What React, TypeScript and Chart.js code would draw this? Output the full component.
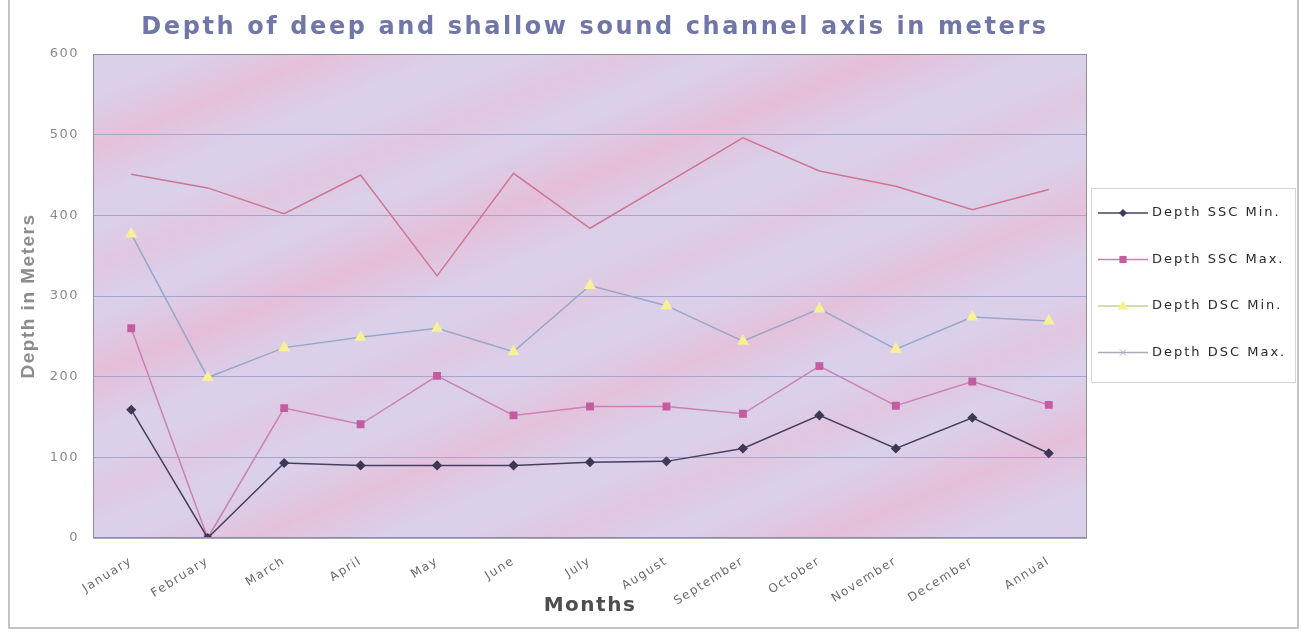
import React, { useEffect, useRef } from "react";
import { Chart, registerables } from "chart.js";

Chart.register(...registerables);

const months = [
  "January", "February", "March", "April", "May", "June", "July",
  "August", "September", "October", "November", "December", "Annual",
];
const sscMin = [159, 0, 93, 90, 90, 90, 94, 95, 111, 152, 111, 149, 105];
const sscMax = [260, 0, 161, 141, 201, 152, 163, 163, 154, 213, 164, 194, 165];
const dscMin = [377, 199, 236, 249, 260, 231, 313, 288, 244, 284, 234, 274, 269];
const dscMax = [451, 434, 402, 450, 325, 452, 384, 440, 496, 455, 436, 407, 432];
const seriesNames = ["Depth SSC Min.", "Depth SSC Max.", "Depth DSC Min.", "Depth DSC Max."];
const yMin = 0;
const yMax = 600;
const yStep = 100;

const TITLE = "Depth of deep and shallow sound channel axis in meters";

const backgroundPlugin = {
  id: "bgPlugin",
  beforeDraw(chart: any) {
    const { ctx, chartArea, width, height } = chart;
    ctx.save();
    ctx.fillStyle = "#ffffff";
    ctx.fillRect(0, 0, width, height);
    // frame
    ctx.strokeStyle = "#c4c4c4";
    ctx.lineWidth = 2;
    ctx.strokeRect(9, -2, width - 13, height - 10);
    // plot background with soft diagonal streaks
    const { left, top, right, bottom } = chartArea;
    const w = right - left;
    const h = bottom - top;
    ctx.beginPath();
    ctx.rect(left, top, w, h);
    ctx.clip();
    ctx.fillStyle = "#dad0ea";
    ctx.fillRect(left, top, w, h);
    const a = -0.38;
    const nx = -Math.sin(a);
    const ny = Math.cos(a);
    const cx = left + w / 2;
    const cy = top + h / 2;
    const L = 620;
    const g = ctx.createLinearGradient(cx - L * nx, cy - L * ny, cx + L * nx, cy + L * ny);
    const lav = "rgba(218,208,234,1)";
    const bands: [number, number, string][] = [
      [0.06, 0.035, "rgba(228,194,220,1)"],
      [0.15, 0.025, "rgba(224,200,226,1)"],
      [0.24, 0.04, "rgba(229,192,218,1)"],
      [0.33, 0.03, "rgba(225,198,224,1)"],
      [0.41, 0.045, "rgba(229,190,217,1)"],
      [0.5, 0.025, "rgba(224,200,226,1)"],
      [0.58, 0.04, "rgba(228,193,219,1)"],
      [0.67, 0.03, "rgba(225,198,224,1)"],
      [0.75, 0.045, "rgba(229,191,218,1)"],
      [0.85, 0.03, "rgba(226,197,223,1)"],
      [0.93, 0.035, "rgba(228,194,220,1)"],
    ];
    g.addColorStop(0, lav);
    bands.forEach(([p, bw, col]) => {
      g.addColorStop(Math.max(0, p - bw), lav);
      g.addColorStop(p, col);
      g.addColorStop(Math.min(1, p + bw), lav);
    });
    g.addColorStop(1, lav);
    ctx.fillStyle = g;
    ctx.fillRect(left, top, w, h);
    ctx.restore();
    // stretched look of scanned text for scales
    ctx.letterSpacing = "1.5px";
  },
  afterDraw(chart: any) {
    const { ctx, chartArea } = chart;
    const { left, top, right, bottom } = chartArea;
    ctx.save();
    // plot border
    ctx.strokeStyle = "#8e8e9e";
    ctx.lineWidth = 1;
    ctx.strokeRect(left + 0.5, top + 0.5, right - left - 1, bottom - top - 1);
    // title
    ctx.fillStyle = "#7076a8";
    ctx.font = "bold 24px 'DejaVu Sans'";
    ctx.letterSpacing = "2.6px";
    ctx.textAlign = "center";
    ctx.textBaseline = "middle";
    ctx.fillText(TITLE, (left + right) / 2 + 5, 28);
    // legend
    const bx = right + 4;
    const by = 188;
    const bw = 204;
    const bh = 194;
    ctx.fillStyle = "#ffffff";
    ctx.fillRect(bx, by, bw, bh);
    ctx.strokeStyle = "#d4d4d4";
    ctx.strokeRect(bx + 0.5, by + 0.5, bw, bh);
    chart.data.datasets.forEach((ds: any, i: number) => {
      const y = by + 25 + i * 46.5;
      const x0 = bx + 7;
      const x1 = bx + 57;
      ctx.strokeStyle = ds.legendLine || ds.borderColor;
      ctx.lineWidth = ds.borderWidth;
      ctx.beginPath();
      ctx.moveTo(x0, y);
      ctx.lineTo(x1, y);
      ctx.stroke();
      const mx = (x0 + x1) / 2;
      ctx.fillStyle = ds.pointBackgroundColor;
      const r = ds.pointRadius;
      ctx.beginPath();
      if (ds.pointStyle === "rectRot") {
        ctx.moveTo(mx, y - r);
        ctx.lineTo(mx + r, y);
        ctx.lineTo(mx, y + r);
        ctx.lineTo(mx - r, y);
        ctx.closePath();
        ctx.fill();
      } else if (ds.pointStyle === "rect") {
        ctx.rect(mx - r * 0.8, y - r * 0.8, r * 1.6, r * 1.6);
        ctx.fill();
      } else if (ds.pointStyle === "triangle") {
        ctx.moveTo(mx, y - r);
        ctx.lineTo(mx + r, y + r * 0.7);
        ctx.lineTo(mx - r, y + r * 0.7);
        ctx.closePath();
        ctx.fill();
      } else {
        ctx.lineWidth = 1;
        ctx.moveTo(mx - 3, y - 3);
        ctx.lineTo(mx + 3, y + 3);
        ctx.moveTo(mx + 3, y - 3);
        ctx.lineTo(mx - 3, y + 3);
        ctx.strokeStyle = "#b0b0c0";
        ctx.stroke();
      }
      ctx.fillStyle = "#2a2a2a";
      ctx.font = "13px 'DejaVu Sans'";
      ctx.letterSpacing = "2px";
      ctx.textAlign = "left";
      ctx.textBaseline = "middle";
      ctx.fillText(ds.label, x1 + 4, y);
    });
    ctx.restore();
  },
};

export default function App() {
  const ref = useRef<HTMLCanvasElement | null>(null);

  useEffect(() => {
    if (!ref.current) return;
    const chart = new Chart(ref.current, {
      type: "line",
      data: {
        labels: months,
        datasets: [
          {
            label: seriesNames[0],
            data: sscMin,
            borderColor: "#45405f",
            borderWidth: 1.5,
            pointStyle: "rectRot",
            pointRadius: 4,
            pointBackgroundColor: "#3d3858",
            pointBorderColor: "#3d3858",
            tension: 0,
          },
          {
            label: seriesNames[1],
            data: sscMax,
            borderColor: "#cc80b4",
            borderWidth: 1.5,
            pointStyle: "rect",
            pointRadius: 4.5,
            pointBackgroundColor: "#c45ca0",
            pointBorderColor: "#c45ca0",
            tension: 0,
          },
          {
            label: seriesNames[2],
            data: dscMin,
            borderColor: "#9aa6c8",
            legendLine: "#c4d290",
            borderWidth: 1.5,
            pointStyle: "triangle",
            pointRadius: 5.5,
            pointBackgroundColor: "#f6f294",
            pointBorderColor: "#f6f294",
            tension: 0,
          },
          {
            label: seriesNames[3],
            data: dscMax,
            borderColor: "#cf7590",
            legendLine: "#a8aab8",
            borderWidth: 1.5,
            pointStyle: "cross",
            pointRadius: 0,
            pointBackgroundColor: "#b0b0c0",
            pointBorderColor: "#b0b0c0",
            tension: 0,
          },
        ] as any,
      },
      options: {
        animation: false,
        responsive: false,
        maintainAspectRatio: false,
        layout: { padding: { left: 8, right: 215, top: 54, bottom: 12 } },
        plugins: {
          legend: { display: false },
          title: { display: false },
          tooltip: { enabled: false },
        },
        scales: {
          x: {
            type: "category",
            offset: true,
            grid: { display: false, drawTicks: false },
            border: { display: false },
            ticks: {
              color: "#6a6a6a",
              font: { family: "'DejaVu Sans'", size: 12 },
              minRotation: 32,
              maxRotation: 32,
              padding: 16,
              autoSkip: false,
            },
            title: {
              display: true,
              text: "Months",
              color: "#4e4e4e",
              font: { family: "'DejaVu Sans'", size: 20, weight: "bold" },
              padding: { top: 0, bottom: 10 },
            },
            afterFit: (scale: any) => {
              scale.height = 90;
            },
          },
          y: {
            min: yMin,
            max: yMax,
            ticks: {
              stepSize: yStep,
              color: "#8a8a8a",
              font: { family: "'DejaVu Sans'", size: 13 },
              padding: 14,
            },
            grid: { color: "#a6a6cc", lineWidth: 1, drawTicks: false },
            border: { display: false },
            title: {
              display: true,
              text: "Depth in Meters",
              color: "#8c8c8c",
              font: { family: "'Liberation Sans'", size: 19, weight: "bold" },
              padding: { top: 9, bottom: 0 },
            },
            afterFit: (scale: any) => {
              scale.width = 85;
            },
          },
        },
      } as any,
      plugins: [backgroundPlugin],
    });
    return () => chart.destroy();
  }, []);

  return (
    <div style={{ position: "fixed", left: 0, top: 0, width: 1302, height: 640, background: "#fff" }}>
      <canvas ref={ref} width={1302} height={640} style={{ display: "block" }} />
    </div>
  );
}
